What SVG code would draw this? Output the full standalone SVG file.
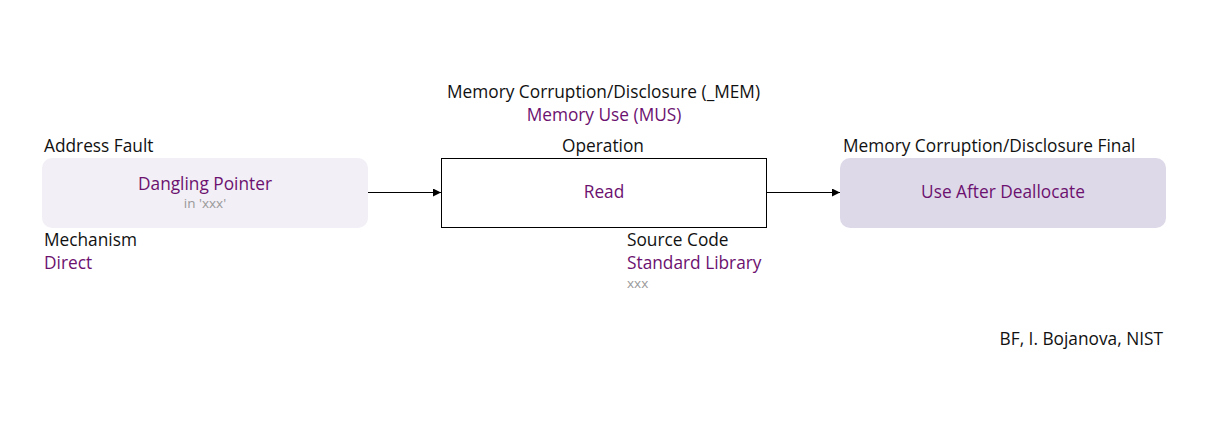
<svg xmlns="http://www.w3.org/2000/svg" width="1207" height="427" viewBox="0 0 1207 427">
<defs>
<style>
text{font-family:"Open Sans","Liberation Sans",Arial,sans-serif;font-size:17.3px;}
.lbl{fill:#111;}
.val{fill:#6c116f;}
.sub{fill:#999;font-size:13.5px;}
.mid{text-anchor:middle;}
</style>
<marker id="arr" viewBox="0 0 10 10" refX="10" refY="5" markerWidth="8" markerHeight="8" markerUnits="userSpaceOnUse" orient="auto"><path d="M0,0 L10,5 L0,10 z" fill="#000"/></marker>
</defs>
<rect width="1207" height="427" fill="#fff"/>
<text class="lbl" x="447" y="98">Memory Corruption/Disclosure (_MEM)</text>
<text class="val mid" x="604" y="121">Memory Use (MUS)</text>
<g id="connectors" stroke="#000" stroke-width="1" fill="none">
<line x1="368" y1="192.5" x2="441" y2="192.5" marker-end="url(#arr)"/>
<line x1="767" y1="192.5" x2="840" y2="192.5" marker-end="url(#arr)"/>
</g>
<g id="node-address-fault">
<text class="lbl" x="44" y="152">Address Fault</text>
<rect x="42" y="158" width="326" height="70" rx="10" fill="#f2eff6"/>
<text class="val mid" x="205" y="190">Dangling Pointer</text>
<text class="sub mid" x="205" y="208">in 'xxx'</text>
<text class="lbl" x="44" y="246">Mechanism</text>
<text class="val" x="44" y="269">Direct</text>
</g>
<g id="node-operation">
<text class="lbl mid" x="603" y="152">Operation</text>
<rect x="441.5" y="158.5" width="325" height="69" fill="#fff" stroke="#000" stroke-width="1"/>
<text class="val mid" x="604" y="198">Read</text>
<text class="lbl" x="627" y="246">Source Code</text>
<text class="val" x="627" y="269">Standard Library</text>
<text class="sub" x="627" y="288">xxx</text>
</g>
<g id="node-final">
<text class="lbl" x="843" y="152">Memory Corruption/Disclosure Final</text>
<rect x="840" y="158" width="326" height="70" rx="10" fill="#ded9e9"/>
<text class="val mid" x="1003" y="198">Use After Deallocate</text>
</g>
<text class="lbl" x="1163" y="345" text-anchor="end">BF, I. Bojanova, NIST</text>
</svg>
